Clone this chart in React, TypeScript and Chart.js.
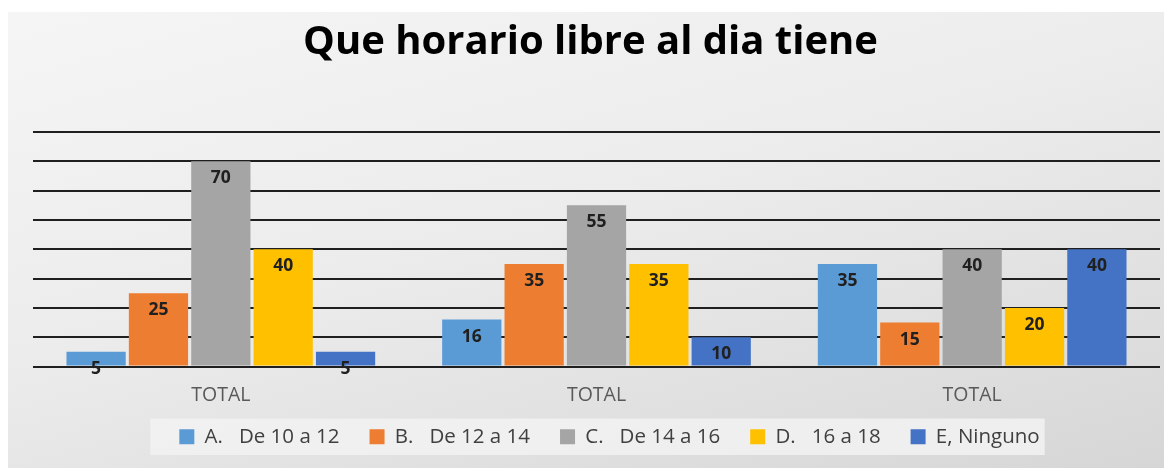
import React, { useEffect, useRef } from "react";
import { Chart, registerables } from "chart.js";

Chart.register(...registerables);

const categories = ["TOTAL", "TOTAL", "TOTAL"];
const seriesNames = ["A.   De 10 a 12", "B.   De 12 a 14", "C.   De 14 a 16", "D.   16 a 18", "E, Ninguno"];
const seriesA = [5, 16, 35];
const seriesB = [25, 35, 15];
const seriesC = [70, 55, 40];
const seriesD = [40, 35, 20];
const seriesE = [5, 10, 40];
const colors = ["#5B9BD5", "#ED7D31", "#A5A5A5", "#FFC000", "#4472C4"];
const yMax = 80;
const yStep = 10;

const FONT = "'Open Sans', 'Noto Sans', sans-serif";
const LEGEND_SHIFT = 13;
const TITLE_SHIFT = -6;

const shiftPlugin = {
  id: "boxShift",
  afterLayout(chart: any) {
    const lg = chart.legend;
    if (lg) {
      lg.left += LEGEND_SHIFT;
      lg.right += LEGEND_SHIFT;
    }
    const tb = chart.titleBlock;
    if (tb) {
      tb.left += TITLE_SHIFT;
      tb.right += TITLE_SHIFT;
    }
  },
};

const legendBoxPlugin = {
  id: "legendBox",
  beforeDraw(chart: any) {
    const lg = chart.legend;
    if (!lg || !lg.legendHitBoxes || !lg.legendHitBoxes.length) return;
    const boxes = lg.legendHitBoxes;
    let minX = Infinity, maxX = -Infinity, minY = Infinity, maxY = -Infinity;
    for (const b of boxes) {
      minX = Math.min(minX, b.left);
      maxX = Math.max(maxX, b.left + b.width);
      minY = Math.min(minY, b.top);
      maxY = Math.max(maxY, b.top + b.height);
    }
    const ctx = chart.ctx;
    ctx.save();
    ctx.fillStyle = "rgba(242,242,242,0.85)";
    ctx.fillRect(minX - 29, minY - 8, maxX - minX + 34, maxY - minY + 16);
    ctx.restore();
  },
};

const categoryLabelPlugin = {
  id: "categoryLabels",
  afterDraw(chart: any) {
    const ctx = chart.ctx;
    const xScale = chart.scales.x;
    ctx.save();
    ctx.font = `19.5px ${FONT}`;
    ctx.fillStyle = "#595959";
    ctx.textAlign = "center";
    ctx.textBaseline = "middle";
    chart.data.labels.forEach((lbl: string, i: number) => {
      ctx.fillText(lbl, xScale.getPixelForValue(i), chart.chartArea.bottom + 29);
    });
    ctx.restore();
  },
};

const dataLabelPlugin = {
  id: "dataLabels",
  afterDatasetsDraw(chart: any) {
    const ctx = chart.ctx;
    ctx.save();
    ctx.font = `bold 17.5px ${FONT}`;
    ctx.fillStyle = "#202020";
    ctx.textAlign = "center";
    ctx.textBaseline = "middle";
    chart.data.datasets.forEach((ds: any, i: number) => {
      const meta = chart.getDatasetMeta(i);
      meta.data.forEach((el: any, j: number) => {
        ctx.fillText(String(ds.data[j]), el.x, el.y + 17);
      });
    });
    ctx.restore();
  },
};

export default function App() {
  const ref = useRef<HTMLCanvasElement | null>(null);
  useEffect(() => {
    if (!ref.current) return;
    const series = [seriesA, seriesB, seriesC, seriesD, seriesE];
    const chart = new Chart(ref.current, {
      type: "bar",
      data: {
        labels: categories,
        datasets: series.map((d, i) => ({
          label: seriesNames[i],
          data: d,
          backgroundColor: colors[i],
          borderWidth: 0,
          categoryPercentage: 0.83,
          barPercentage: 0.95,
        })),
      },
      options: {
        animation: false,
        responsive: false,
        maintainAspectRatio: false,
        layout: { padding: { left: 25, right: 5, top: 0, bottom: 11 } },
        plugins: {
          title: {
            display: true,
            text: "Que horario libre al dia tiene",
            color: "#000",
            font: { family: FONT, size: 40, weight: "bold" },
            padding: { top: 7, bottom: 65 },
          },
          legend: {
            display: true,
            position: "bottom",
            labels: {
              boxWidth: 15,
              boxHeight: 15,
              padding: 30,
              color: "#404040",
              font: { family: FONT, size: 20.5 },
            },
          },
          tooltip: { enabled: false },
        },
        scales: {
          x: {
            grid: { display: false },
            border: { display: false },
            ticks: { display: false },
            afterFit: (scale: any) => {
              scale.height = 30;
            },
          },
          y: {
            min: 0,
            max: yMax,
            ticks: { display: false, stepSize: yStep },
            border: { display: false },
            grid: { color: "#1f1f1f", lineWidth: 2, drawTicks: false },
          },
        },
      },
      plugins: [shiftPlugin, legendBoxPlugin, categoryLabelPlugin, dataLabelPlugin],
    });
    return () => chart.destroy();
  }, []);
  return (
    <div
      style={{
        marginTop: 4,
        width: 1157,
        height: 456,
        background: "linear-gradient(165deg, #f5f5f5 0%, #ececec 45%, #d6d6d6 100%)",
      }}
    >
      <canvas ref={ref} width={1157} height={456} style={{ display: "block" }} />
    </div>
  );
}
